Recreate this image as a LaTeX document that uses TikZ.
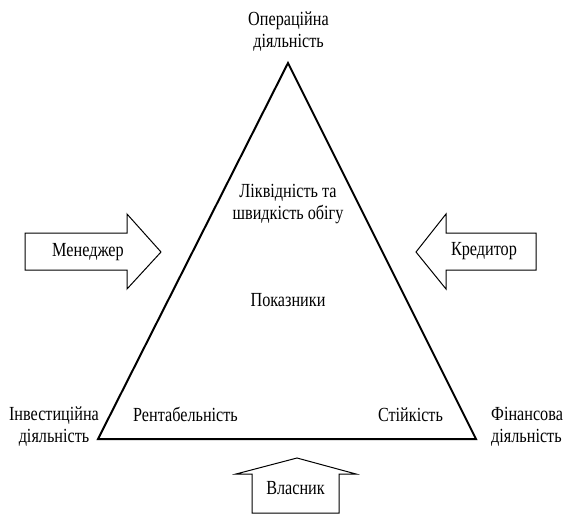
\documentclass[tikz,border=0pt]{standalone}
\usepackage{fontspec}
\setmainfont{Liberation Serif}
\newfontfamily\lblfont[FakeStretch=0.81]{Liberation Serif}
\begin{document}
\begin{tikzpicture}[x=1pt,y=-1pt,
  lbl/.style={font=\lblfont\fontsize{20}{21.7}\selectfont, align=center, inner sep=0pt, anchor=base},
  edge/.style={draw=black, line width=2pt, line join=miter},
  blockarrow/.style={draw=black, line width=1pt, fill=white, line join=miter}]
  \useasboundingbox (0,0) rectangle (565,514);

  % triangle of activities
  \coordinate (top) at (288,63);
  \coordinate (bl) at (98,439);
  \coordinate (br) at (476,439);
  \draw[edge] (top) -- (bl) -- (br) -- cycle;

  % manager arrow (points right)
  \draw[blockarrow] (25,233) -- (127,233) -- (127,214) -- (161,252) -- (127,289)
    -- (127,270) -- (25,270) -- cycle;
  % creditor arrow (points left)
  \draw[blockarrow] (536,233) -- (446,233) -- (446,214) -- (416,252) -- (446,289)
    -- (446,270) -- (536,270) -- cycle;
  % owner arrow (points up)
  \draw[blockarrow] (252,513) -- (252,474) -- (236,474) -- (297,458) -- (356,474)
    -- (339,474) -- (339,513) -- cycle;

  % single-line labels, placed by baseline
  \node[lbl] (mgr) at (88,256) {Менеджер};
  \node[lbl] (cred) at (484,255) {Кредитор};
  \node[lbl] (own) at (295.5,494) {Власник};
  \node[lbl] (ind) at (288,306) {Показники};
  \node[lbl] (rent) at (185.5,421.5) {Рентабельність};
  \node[lbl] (stab) at (410.5,421.5) {Стійкість};

  % two-line labels, placed by the baseline of the last line
  \node[lbl] (oper) at (288.5,47) {Операційна\\діяльність};
  \node[lbl] (liq) at (288,219) {Ліквідність та\\швидкість обігу};
  \node[lbl] (inv) at (54,442) {Інвестиційна\\діяльність};
  \node[lbl, align=left, anchor=base west] (fin) at (491,442) {Фінансова\\діяльність};
\end{tikzpicture}
\end{document}
